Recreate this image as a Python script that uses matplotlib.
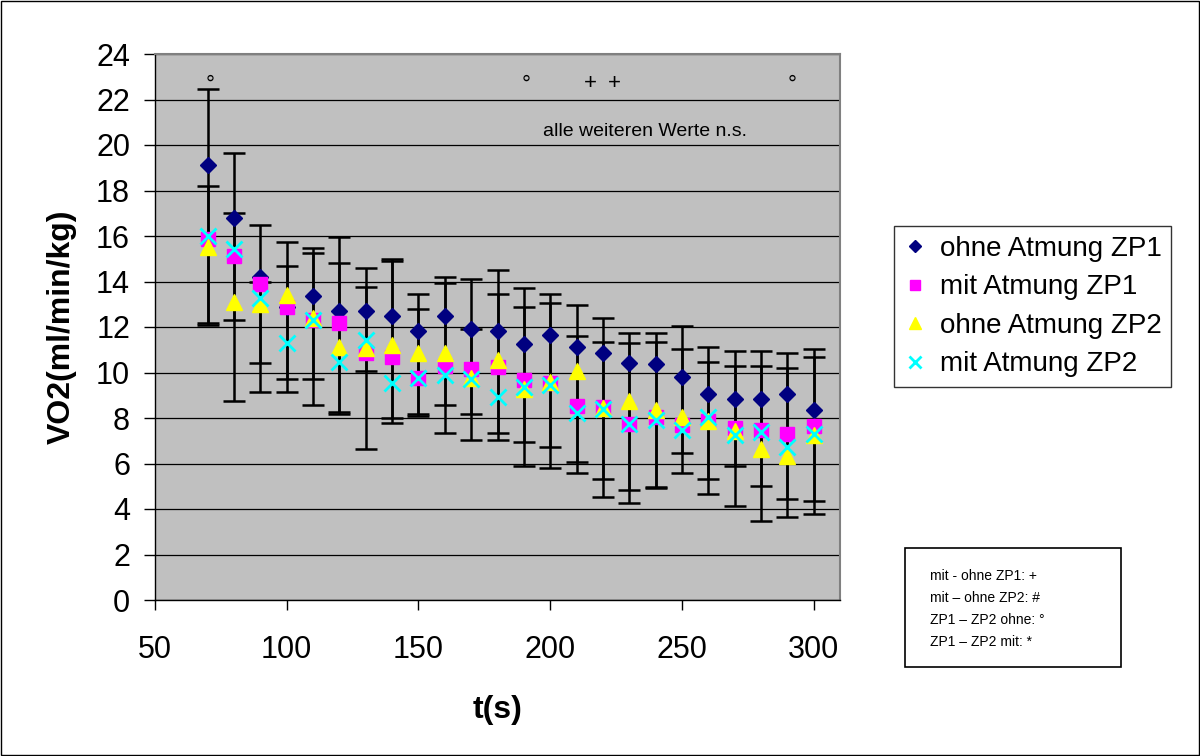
import numpy as np
import matplotlib
matplotlib.use("Agg")
import matplotlib.pyplot as plt
from matplotlib.patches import Rectangle

plt.rcParams['font.family'] = ['Liberation Sans', 'DejaVu Sans']

# zeitpunkte (s)
t = np.arange(70, 301, 10)

# VO2 mittelwerte je bedingung
ohne_zp1 = [19.1, 16.8, 14.2, 12.9, 13.36, 12.7, 12.7, 12.5, 11.82, 12.48, 11.91, 11.82,
            11.24, 11.65, 11.14, 10.87, 10.4, 10.37, 9.79, 9.04, 8.85, 8.85, 9.04, 8.35]
mit_zp1 = [15.85, 15.1, 13.9, 12.9, 12.3, 12.16, 10.84, 10.7, 9.74, 10.3, 10.15, 10.26,
           9.67, 9.52, 8.53, 8.47, 7.74, 8.03, 7.69, 7.88, 7.58, 7.47, 7.28, 7.65]
ohne_zp2 = [15.5, 13.1, 13.0, 13.4, 12.4, 11.14, 11.06, 11.2, 10.84, 10.84, 9.77, 10.55,
            9.26, 9.6, 10.08, 8.43, 8.75, 8.35, 8.06, 7.88, 7.43, 6.64, 6.35, 7.25]
mit_zp2 = [16.0, 15.45, 13.26, 11.3, 12.3, 10.48, 11.43, 9.52, 9.74, 9.89, 9.71, 8.94,
           9.35, 9.45, 8.2, 8.38, 7.74, 7.91, 7.47, 8.06, 7.25, 7.37, 6.74, 7.28]

# fehlerbalken (obere / untere grenze)
sd_a_hi = [22.45, 19.66, 16.5, 15.75, 15.46, 15.94, 14.58, 14.97, 13.44, 14.21, 14.11, 14.5,
           13.73, 13.45, 12.97, 12.38, 11.72, 11.72, 12.04, 11.14, 10.96, 10.96, 10.87, 11.03]
sd_a_lo = [12.09, 8.76, 9.14, 9.14, 8.56, 8.19, 6.64, 7.79, 8.07, 7.33, 7.03, 7.03,
           5.9, 5.79, 5.6, 4.54, 4.25, 4.94, 5.6, 4.64, 4.15, 3.49, 3.66, 3.78]
sd_b_hi = [18.2, 17.0, 14.0, 14.7, 15.27, 14.8, 13.74, 14.92, 12.78, 13.95, 11.9, 13.45,
           12.89, 13.04, 11.62, 11.33, 11.3, 11.33, 11.03, 10.48, 10.29, 10.29, 10.18, 10.67]
sd_b_lo = [12.19, 12.3, 10.4, 9.7, 9.7, 8.25, 10.08, 7.99, 8.16, 8.56, 8.18, 7.33,
           6.93, 6.74, 6.05, 5.3, 4.84, 4.98, 6.45, 5.3, 5.89, 5.01, 4.44, 4.35]

fig = plt.figure(figsize=(12, 7.56), dpi=100)
ax = fig.add_axes([155 / 1200, 1 - 600 / 756, 685 / 1200, 546 / 756])
ax.set_facecolor('#C0C0C0')

for hi, lo in [(sd_a_hi, sd_a_lo), (sd_b_hi, sd_b_lo)]:
    hi = np.array(hi)
    lo = np.array(lo)
    ax.errorbar(t, (hi + lo) / 2, yerr=(hi - lo) / 2, fmt='none', ecolor='black',
                elinewidth=1.8, capsize=8, capthick=1.8, zorder=2)

ax.plot(t, ohne_zp1, ls='none', marker='D', ms=8, color='#000080', label='ohne Atmung ZP1', zorder=3)
ax.plot(t, mit_zp1, ls='none', marker='s', ms=9.5, color='#FF00FF', label='mit Atmung ZP1', zorder=4)
ax.plot(t, ohne_zp2, ls='none', marker='^', ms=11, color='#FFFF00', label='ohne Atmung ZP2', zorder=5)
ax.plot(t, mit_zp2, ls='none', marker='x', ms=11, mew=2, color='#00FFFF', label='mit Atmung ZP2', zorder=6)

ax.set_xlim(50, 310)
ax.set_ylim(0, 24)
ax.set_xticks(np.arange(50, 301, 50))
ax.set_yticks(np.arange(0, 25, 2))
ax.yaxis.grid(True, color='black', lw=0.9)
ax.set_axisbelow(True)
ax.tick_params(axis='both', labelsize=22, direction='out', color='black')
ax.tick_params(axis='x', length=7, width=1, pad=18)
ax.tick_params(axis='y', length=8, width=1, pad=10)
for side in ['top', 'right']:
    ax.spines[side].set_color('#808080')
    ax.spines[side].set_linewidth(1.5)
for side in ['left', 'bottom']:
    ax.spines[side].set_color('black')
    ax.spines[side].set_linewidth(1)

ax.set_xlabel('t(s)', fontsize=23, fontweight='bold', labelpad=22)
ax.set_ylabel('VO2(ml/min/kg)', fontsize=23, fontweight='bold', labelpad=14)

# signifikanz-kennzeichen
ax.text(71, 22.37, '°', fontsize=16, ha='center', va='baseline')
ax.text(191, 22.37, '°', fontsize=16, ha='center', va='baseline')
ax.text(292, 22.37, '°', fontsize=16, ha='center', va='baseline')
ax.text(215.3, 22.7, '+', fontsize=16, ha='center', va='center')
ax.text(224.4, 22.7, '+', fontsize=16, ha='center', va='center')
ax.text(197.4, 20.6, 'alle weiteren Werte n.s.', fontsize=14, ha='left', va='center')

leg = fig.legend(loc='upper left', bbox_to_anchor=(894 / 1200, 1 - 226 / 756),
                 fontsize=20, frameon=True, fancybox=False, edgecolor='black',
                 handlelength=0.8, handletextpad=0.5, borderpad=0.35, labelspacing=0.45,
                 markerscale=0.75, borderaxespad=0)
leg.get_frame().set_linewidth(1)

# legende der kennzeichen
fig.patches.append(Rectangle((905 / 1200, 1 - 667 / 756), 216 / 1200, 119 / 756,
                             transform=fig.transFigure, fill=False, edgecolor='black', lw=1.2))
notes = ['mit - ohne ZP1: +', 'mit – ohne ZP2: #', 'ZP1 – ZP2 ohne: °', 'ZP1 – ZP2 mit: *']
for i, line in enumerate(notes):
    fig.text(930 / 1200, 1 - (576 + 22 * i) / 756, line, fontsize=10, ha='left', va='center')

fig.patches.append(Rectangle((0.001, 0.001), 0.998, 0.998, transform=fig.transFigure,
                             fill=False, edgecolor='black', lw=1))

fig.savefig('out.png', dpi=100)
